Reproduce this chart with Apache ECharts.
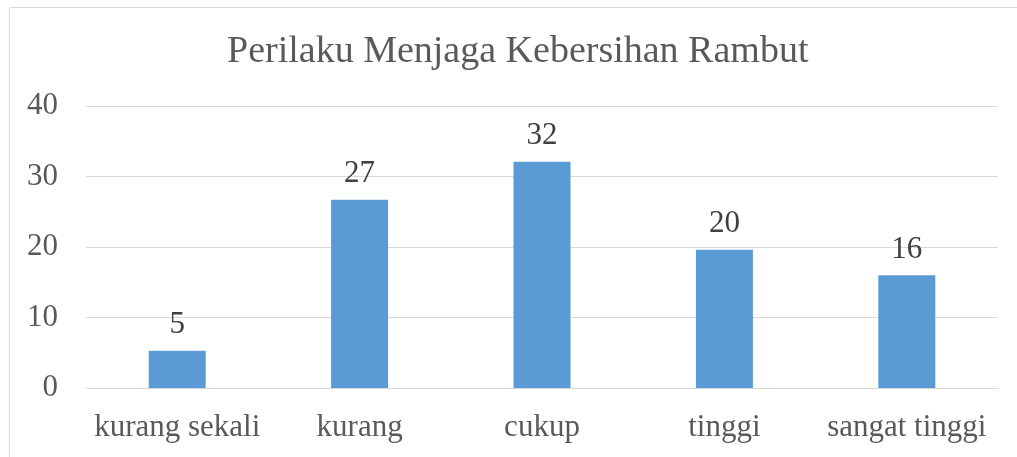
<!DOCTYPE html>
<html>
<head>
    <meta charset="utf-8">
    <title>Perilaku Menjaga Kebersihan Rambut</title>
    <script src="https://cdn.jsdelivr.net/npm/echarts@6/dist/echarts.min.js"></script>
</head>
<style>
  body { margin: 0; background: #fff; }
</style>
<body>
    <div id="main" style="width: 1017px;height:457px;"></div>
    <script type="text/javascript">
    var categories = ['kurang sekali', 'kurang', 'cukup', 'tinggi', 'sangat tinggi'];
    var values = [5.3, 26.7, 32.1, 19.6, 16.0];
    var yTicks = [0, 10, 20, 30, 40];

    var font = 'Liberation Serif';
    var myChart = echarts.init(document.getElementById('main'));

    var option = {
        backgroundColor: '#fff',
        animation: false,
        title: {
            text: 'Perilaku Menjaga Kebersihan Rambut',
            left: 222,
            top: 28,
            textStyle: {
                fontFamily: font,
                fontSize: 38,
                fontWeight: 'normal',
                color: '#595959'
            }
        },
        graphic: [{
            type: 'rect',
            shape: { x: 9.5, y: 7.5, width: 1020, height: 460 },
            style: { fill: 'none', stroke: '#d9d9d9', lineWidth: 1 },
            silent: true
        }],
        grid: {
            left: 86,
            right: 19,
            top: 106,
            bottom: 69
        },
        xAxis: {
            type: 'category',
            data: categories,
            axisTick: { show: false },
            axisLine: { lineStyle: { color: '#d9d9d9', width: 1 } },
            axisLabel: {
                interval: 0,
                margin: 24,
                fontFamily: font,
                fontSize: 31,
                color: '#595959'
            }
        },
        yAxis: {
            type: 'value',
            min: yTicks[0],
            max: yTicks[yTicks.length - 1],
            interval: 10,
            axisLine: { show: false },
            axisTick: { show: false },
            splitLine: { lineStyle: { color: '#d9d9d9', width: 1 } },
            axisLabel: {
                margin: 28,
                fontFamily: font,
                fontSize: 31,
                color: '#595959'
            }
        },
        series: [{
            type: 'bar',
            data: values,
            barWidth: 57,
            itemStyle: { color: '#5b9bd5' },
            label: {
                show: true,
                position: 'top',
                distance: 10,
                fontFamily: font,
                fontSize: 31,
                color: '#404040',
                formatter: function (p) { return Math.round(p.value); }
            }
        }]
    };
    myChart.setOption(option);
    </script>
</body>
</html>
